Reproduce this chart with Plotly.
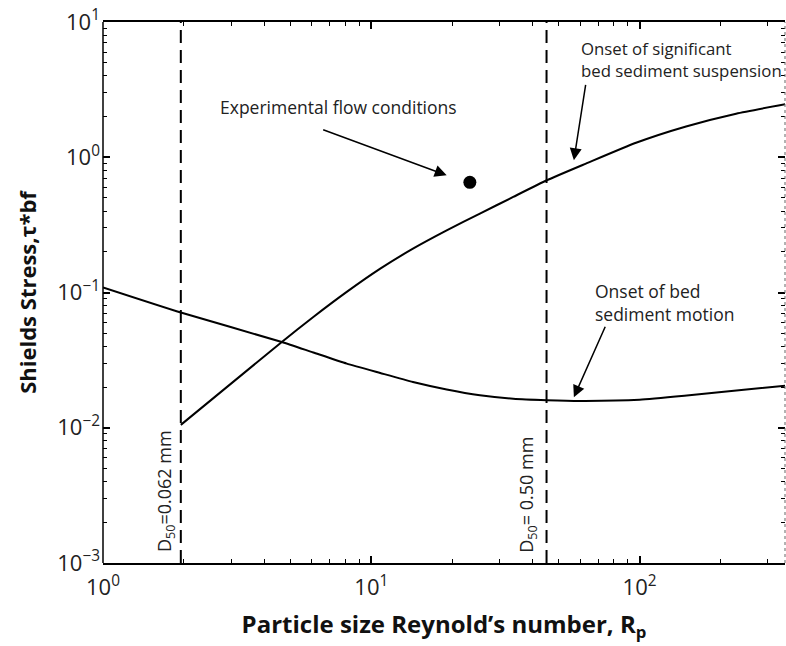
import math
import plotly.graph_objects as go

# ---- data ----
rp_susp = [1.95, 4.64, 6.08, 8.10, 10.8, 14.3, 19.1, 25.4, 33.8, 45.1, 63.1, 97, 149, 229, 351]
tau_susp = [0.0105, 0.0431, 0.0659, 0.101, 0.150, 0.211, 0.288, 0.383, 0.509, 0.676,
            0.898, 1.28, 1.69, 2.10, 2.47]

rp_motion = [1.0, 1.95, 4.64, 6.08, 8.10, 10.8, 14.3, 19.1, 25.4, 33.8, 45.1, 60, 100, 150, 250, 351]
tau_motion = [0.109, 0.0711, 0.0431, 0.0360, 0.0298, 0.0254, 0.0218, 0.0192, 0.0174,
              0.0164, 0.0160, 0.0158, 0.0161, 0.0173, 0.0192, 0.0205]

exp_rp = [23.3]
exp_tau = [0.653]

d50_rp = [1.95, 45.0]
d50_labels = ["D<sub>50</sub>=0.062 mm", "D<sub>50</sub>= 0.50 mm"]

x_major = [1, 10, 100]
x_major_text = ["10<sup>0</sup>", "10<sup>1</sup>", "10<sup>2</sup>"]
y_major = [1e-3, 1e-2, 1e-1, 1, 10]
y_major_text = ["10<sup>\u22123</sup>", "10<sup>\u22122</sup>", "10<sup>\u22121</sup>",
                "10<sup>0</sup>", "10<sup>1</sup>"]

x_minor = [m * 10 ** d for d in range(0, 3) for m in range(2, 10)]
y_minor = [m * 10.0 ** d for d in range(-3, 1) for m in range(2, 10)]

FONT = "Open Sans"

fig = go.Figure()

# dashed D50 lines
for xv in d50_rp:
    fig.add_trace(go.Scatter(x=[xv, xv], y=[1e-3, 1e1], mode="lines",
                             line=dict(color="black", width=2, dash="13px,7px"),
                             showlegend=False, hoverinfo="skip"))

fig.add_trace(go.Scatter(x=rp_susp, y=tau_susp, mode="lines",
                         line=dict(color="black", width=2, shape="spline", smoothing=0.5),
                         showlegend=False))
fig.add_trace(go.Scatter(x=rp_motion, y=tau_motion, mode="lines",
                         line=dict(color="black", width=2, shape="spline", smoothing=0.5),
                         showlegend=False))
fig.add_trace(go.Scatter(x=exp_rp, y=exp_tau, mode="markers",
                         marker=dict(color="black", size=13),
                         showlegend=False))

tickfont = dict(family=FONT, size=22, color="#222")

fig.update_xaxes(
    type="log", range=[0, 2.542],
    tickmode="array", tickvals=x_major, ticktext=x_major_text,
    ticks="inside", ticklen=7, tickwidth=1.5, tickcolor="black",
    showline=True, linecolor="black", linewidth=1.5, mirror="allticks",
    showgrid=False, zeroline=False,
    minor=dict(tickmode="array", tickvals=x_minor, ticks="inside", ticklen=4,
               tickwidth=1.2, tickcolor="black", showgrid=False),
    tickfont=tickfont, ticklabelstandoff=4,
    title=dict(text="Particle size Reynold\u2019s number, R<sub>p</sub>",
               font=dict(family=FONT, size=24, color="#111", weight="bold"),
               standoff=16),
)
fig.update_yaxes(
    type="log", range=[-3, 1],
    tickmode="array", tickvals=y_major, ticktext=y_major_text,
    ticks="inside", ticklen=7, tickwidth=1.5, tickcolor="black",
    showline=False, mirror="allticks",
    showgrid=False, zeroline=False,
    minor=dict(tickmode="array", tickvals=y_minor, ticks="inside", ticklen=4,
               tickwidth=1.2, tickcolor="black", showgrid=False),
    tickfont=tickfont, ticklabelstandoff=2,
    title=dict(text="Shields Stress,\u03c4*bf",
               font=dict(family=FONT, size=22, color="#111", weight="bold"),
               standoff=14),
)

# left solid spine and right dotted spine
fig.add_shape(type="line", xref="paper", yref="paper", x0=0, x1=0, y0=0, y1=1,
              line=dict(color="black", width=1.5))
fig.add_shape(type="line", xref="paper", yref="paper", x0=1, x1=1, y0=0, y1=1,
              line=dict(color="#666", width=1, dash="dot"))

texts = [
    ("Experimental flow conditions", 0.1686, 0.843, 17.5),
    ("Onset of significant<br>bed sediment suspension", 0.698, 0.930, 16.8),
    ("Onset of bed<br>sediment motion", 0.7185, 0.4815, 17.5),
]
for t, xp, yp, fs in texts:
    fig.add_annotation(text=t, x=xp, y=yp, xref="paper", yref="paper",
                       xanchor="left", yanchor="middle", align="left", showarrow=False,
                       font=dict(family=FONT, size=fs, color="#222"))

# D50 vertical labels
d50_font = dict(family=FONT, size=18, color="#222")
for lab, xp, yp in [(d50_labels[0], 0.0909, 0.133), (d50_labels[1], 0.623, 0.126)]:
    fig.add_annotation(text=lab, x=xp, y=yp, xref="paper", yref="paper",
                       xanchor="center", yanchor="middle", showarrow=False,
                       textangle=-90, font=d50_font)

# arrows (head positions in data coords, tails as pixel offsets)
arrows = [
    (19.1, 0.736, -125, -46),
    (56.9, 0.95, 12, -77),
    (56.9, 0.0168, 32, -72),
]
for xh, yh, ax, ay in arrows:
    fig.add_annotation(x=math.log10(xh), y=math.log10(yh), xref="x", yref="y",
                       ax=ax, ay=ay, text="", showarrow=True,
                       arrowhead=2, arrowsize=1.6, arrowwidth=1.5, arrowcolor="black")

fig.update_layout(
    width=786, height=646,
    margin=dict(l=103, r=1, t=22, b=83),
    plot_bgcolor="white", paper_bgcolor="white",
    showlegend=False,
)

fig.write_html("out.html")
